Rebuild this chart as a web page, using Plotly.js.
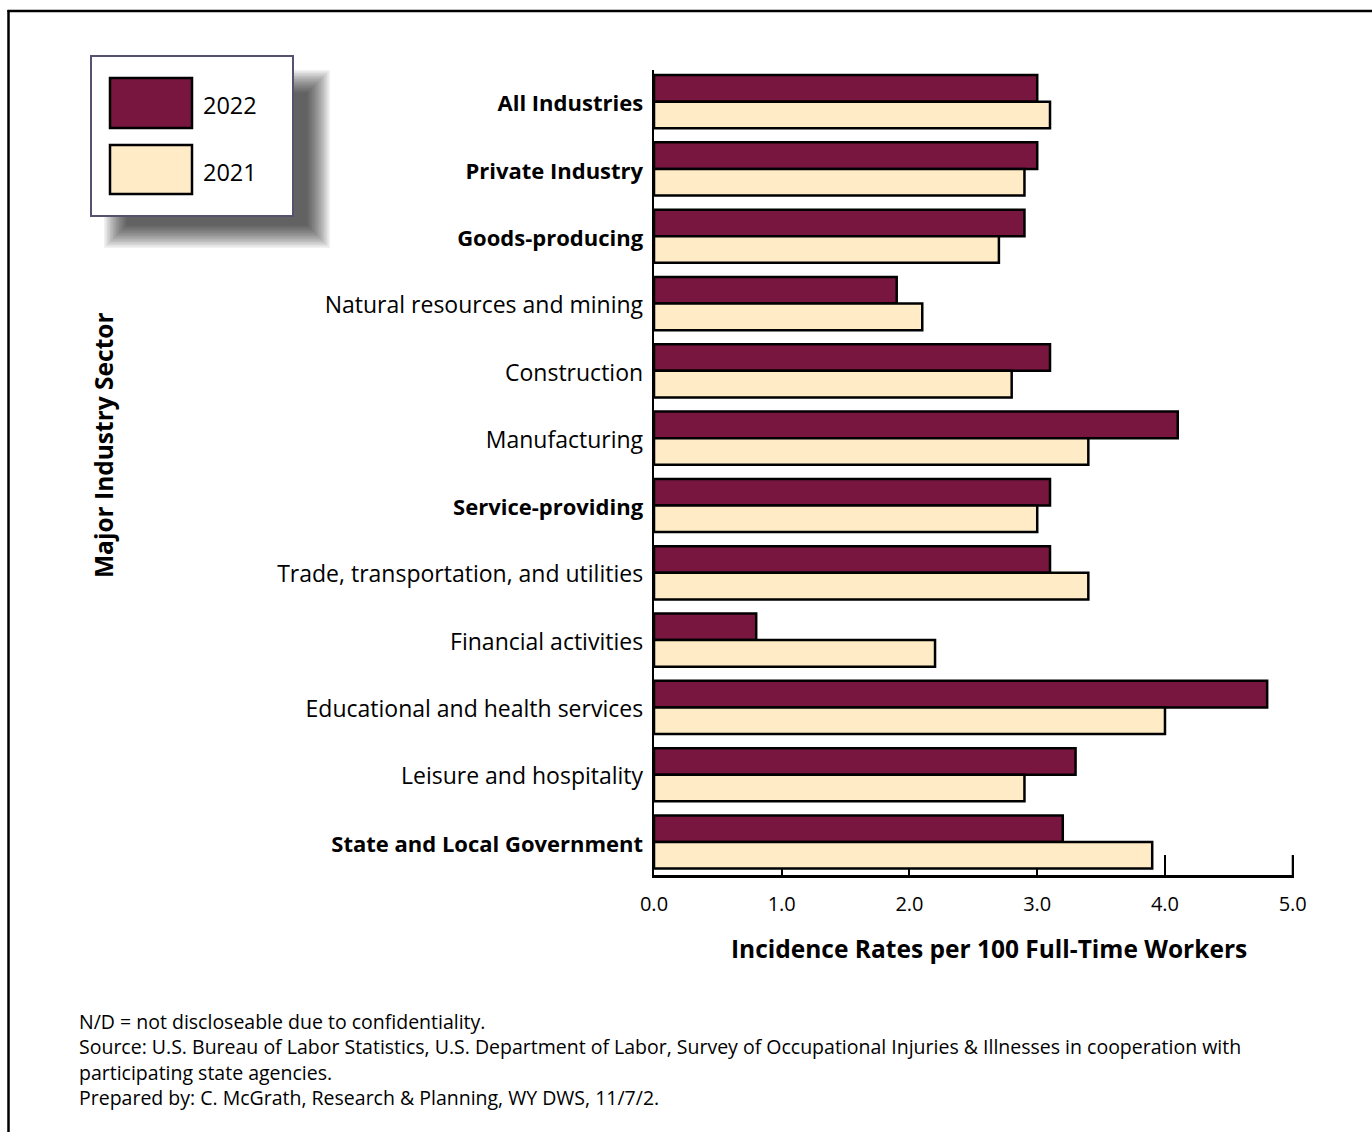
<!DOCTYPE html>
<html>
<head>
<meta charset="utf-8">
<script src="https://cdn.plot.ly/plotly-3.0.1.min.js"></script>
<style>html,body{margin:0;padding:0;background:#fff;}#chart{width:1372px;height:1132px;}</style>
</head>
<body>
<div id="chart"></div>
<script>
// ---- data ----
const categories = [
  "All Industries", "Private Industry", "Goods-producing",
  "Natural resources and mining", "Construction", "Manufacturing",
  "Service-providing", "Trade, transportation, and utilities",
  "Financial activities", "Educational and health services",
  "Leisure and hospitality", "State and Local Government"
];
const boldCategories = ["All Industries", "Private Industry", "Goods-producing",
  "Service-providing", "State and Local Government"];
const values2022 = [3.0, 3.0, 2.9, 1.9, 3.1, 4.1, 3.1, 3.1, 0.8, 4.8, 3.3, 3.2];
const values2021 = [3.1, 2.9, 2.7, 2.1, 2.8, 3.4, 3.0, 3.4, 2.2, 4.0, 2.9, 3.9];
const seriesNames = ["2022", "2021"];
const xTickVals = [0, 1, 2, 3, 4, 5];
const xTickText = ["0.0", "1.0", "2.0", "3.0", "4.0", "5.0"];
const xTitle = "Incidence Rates per 100 Full-Time Workers";
const yTitle = "Major Industry Sector";
const footnotes = [
  "N/D = not discloseable due to confidentiality.",
  "Source: U.S. Bureau of Labor Statistics, U.S. Department of Labor, Survey of Occupational Injuries &amp; Illnesses in cooperation with",
  "participating state agencies.",
  "Prepared by: C. McGrath, Research &amp; Planning, WY DWS, 11/7/2."
];

// ---- layout geometry ----
const W = 1372, H = 1132;
const PL = 654, PR = 1294, PT = 70, PB = 875;
const px2x = p => (p - PL) / (PR - PL);
const px2y = p => (PB - p) / (PB - PT);

const MAROON = "#79163F";
const CREAM = "#FFEBC6";
const FONT = "'Open Sans', Lato, sans-serif";

const tickText = categories.map(c => boldCategories.includes(c)
  ? "<b>" + c + "</b>"
  : "<span style='font-size:23px'>" + c + "</span>");

const traces = [
  {
    type: "bar", orientation: "h", name: seriesNames[0],
    y: categories, x: values2022,
    marker: {color: MAROON, line: {color: "#000", width: 2.5}},
    showlegend: false, hoverinfo: "x+y+name"
  },
  {
    type: "bar", orientation: "h", name: seriesNames[1],
    y: categories, x: values2021,
    marker: {color: CREAM, line: {color: "#000", width: 2.5}},
    showlegend: false, hoverinfo: "x+y+name"
  }
];

// legend drawn as shapes
const shapes = [];
// outer frame lines (left and top)
shapes.push({type: "line", xref: "paper", yref: "paper", x0: px2x(8.5), x1: px2x(8.5), y0: px2y(10), y1: px2y(1140), line: {color: "#000", width: 2.5}});
shapes.push({type: "line", xref: "paper", yref: "paper", x0: px2x(7.5), x1: px2x(1380), y0: px2y(11), y1: px2y(11), line: {color: "#000", width: 2.5}});
// legend shadow (soft)
for (let k = 0; k < 16; k++) {
  shapes.push({type: "rect", xref: "paper", yref: "paper",
    x0: px2x(104 + 1.5 * k), x1: px2x(330 - 1.5 * k),
    y0: px2y(70 + 1.5 * k), y1: px2y(248 - 1.5 * k),
    line: {width: 0}, fillcolor: "rgba(0,0,0,0.055)"});
}
// legend box
shapes.push({type: "rect", xref: "paper", yref: "paper",
  x0: px2x(91), x1: px2x(293), y0: px2y(56), y1: px2y(216),
  line: {color: "#55526F", width: 2}, fillcolor: "#fff"});
// swatches
shapes.push({type: "rect", xref: "paper", yref: "paper",
  x0: px2x(110), x1: px2x(192), y0: px2y(78), y1: px2y(128),
  line: {color: "#000", width: 2.5}, fillcolor: MAROON});
shapes.push({type: "rect", xref: "paper", yref: "paper",
  x0: px2x(110), x1: px2x(192), y0: px2y(145), y1: px2y(194),
  line: {color: "#000", width: 2.5}, fillcolor: CREAM});
// tick mark at the right end of the x axis (edge tick)
shapes.push({type: "line", xref: "x", yref: "paper", x0: xTickVals[xTickVals.length - 1], x1: xTickVals[xTickVals.length - 1],
  y0: 0, y1: px2y(855), line: {color: "#000", width: 2}, layer: "below"});

const annotations = [
  {xref: "paper", yref: "paper", x: px2x(201), y: px2y(105), xanchor: "left", yanchor: "middle",
   text: seriesNames[0], showarrow: false, font: {family: FONT, size: 23.5, color: "#000"}},
  {xref: "paper", yref: "paper", x: px2x(201), y: px2y(172), xanchor: "left", yanchor: "middle",
   text: seriesNames[1], showarrow: false, font: {family: FONT, size: 23.5, color: "#000"}},
  {xref: "paper", yref: "paper", x: px2x(989), y: px2y(948), xanchor: "center", yanchor: "middle",
   text: "<b>" + xTitle + "</b>", showarrow: false, font: {family: FONT, size: 24.5, color: "#000"}},
  {xref: "paper", yref: "paper", x: px2x(103), y: px2y(445), xanchor: "center", yanchor: "middle",
   textangle: -90, text: "<b>" + yTitle + "</b>", showarrow: false, font: {family: FONT, size: 24.5, color: "#000"}},
  {xref: "paper", yref: "paper", x: px2x(78), y: px2y(1007), xanchor: "left", yanchor: "top", align: "left",
   borderpad: 0, text: footnotes.join("<br>"), showarrow: false, font: {family: FONT, size: 19.5, color: "#000"}}
];

const layout = {
  width: W, height: H,
  margin: {l: PL, r: W - PR, t: PT, b: H - PB, pad: 0},
  paper_bgcolor: "#fff", plot_bgcolor: "#fff",
  barmode: "group", bargap: 0.21, bargroupgap: 0,
  font: {family: FONT, color: "#000"},
  xaxis: {
    range: [0, 5.01], tickvals: xTickVals, ticktext: xTickText,
    ticks: "inside", ticklen: 20, tickwidth: 2, tickcolor: "#000",
    showline: true, linecolor: "#000", linewidth: 2.5,
    showgrid: false, zeroline: false, layer: "below traces",
    tickfont: {family: FONT, size: 20, color: "#000"}, ticklabelstandoff: 9,
    fixedrange: true
  },
  yaxis: {
    type: "category", categoryorder: "array", categoryarray: categories,
    range: [11.49, -0.47],
    tickvals: categories, ticktext: tickText,
    ticks: "", showline: true, linecolor: "#000", linewidth: 2.5,
    showgrid: false, zeroline: false, layer: "above traces",
    tickfont: {family: FONT, size: 22, color: "#000"}, ticklabelstandoff: 4,
    ticklabelshift: -2,
    fixedrange: true
  },
  shapes: shapes,
  annotations: annotations,
  showlegend: false
};

Plotly.newPlot("chart", traces, layout, {displayModeBar: false, staticPlot: true});
</script>
</body>
</html>
